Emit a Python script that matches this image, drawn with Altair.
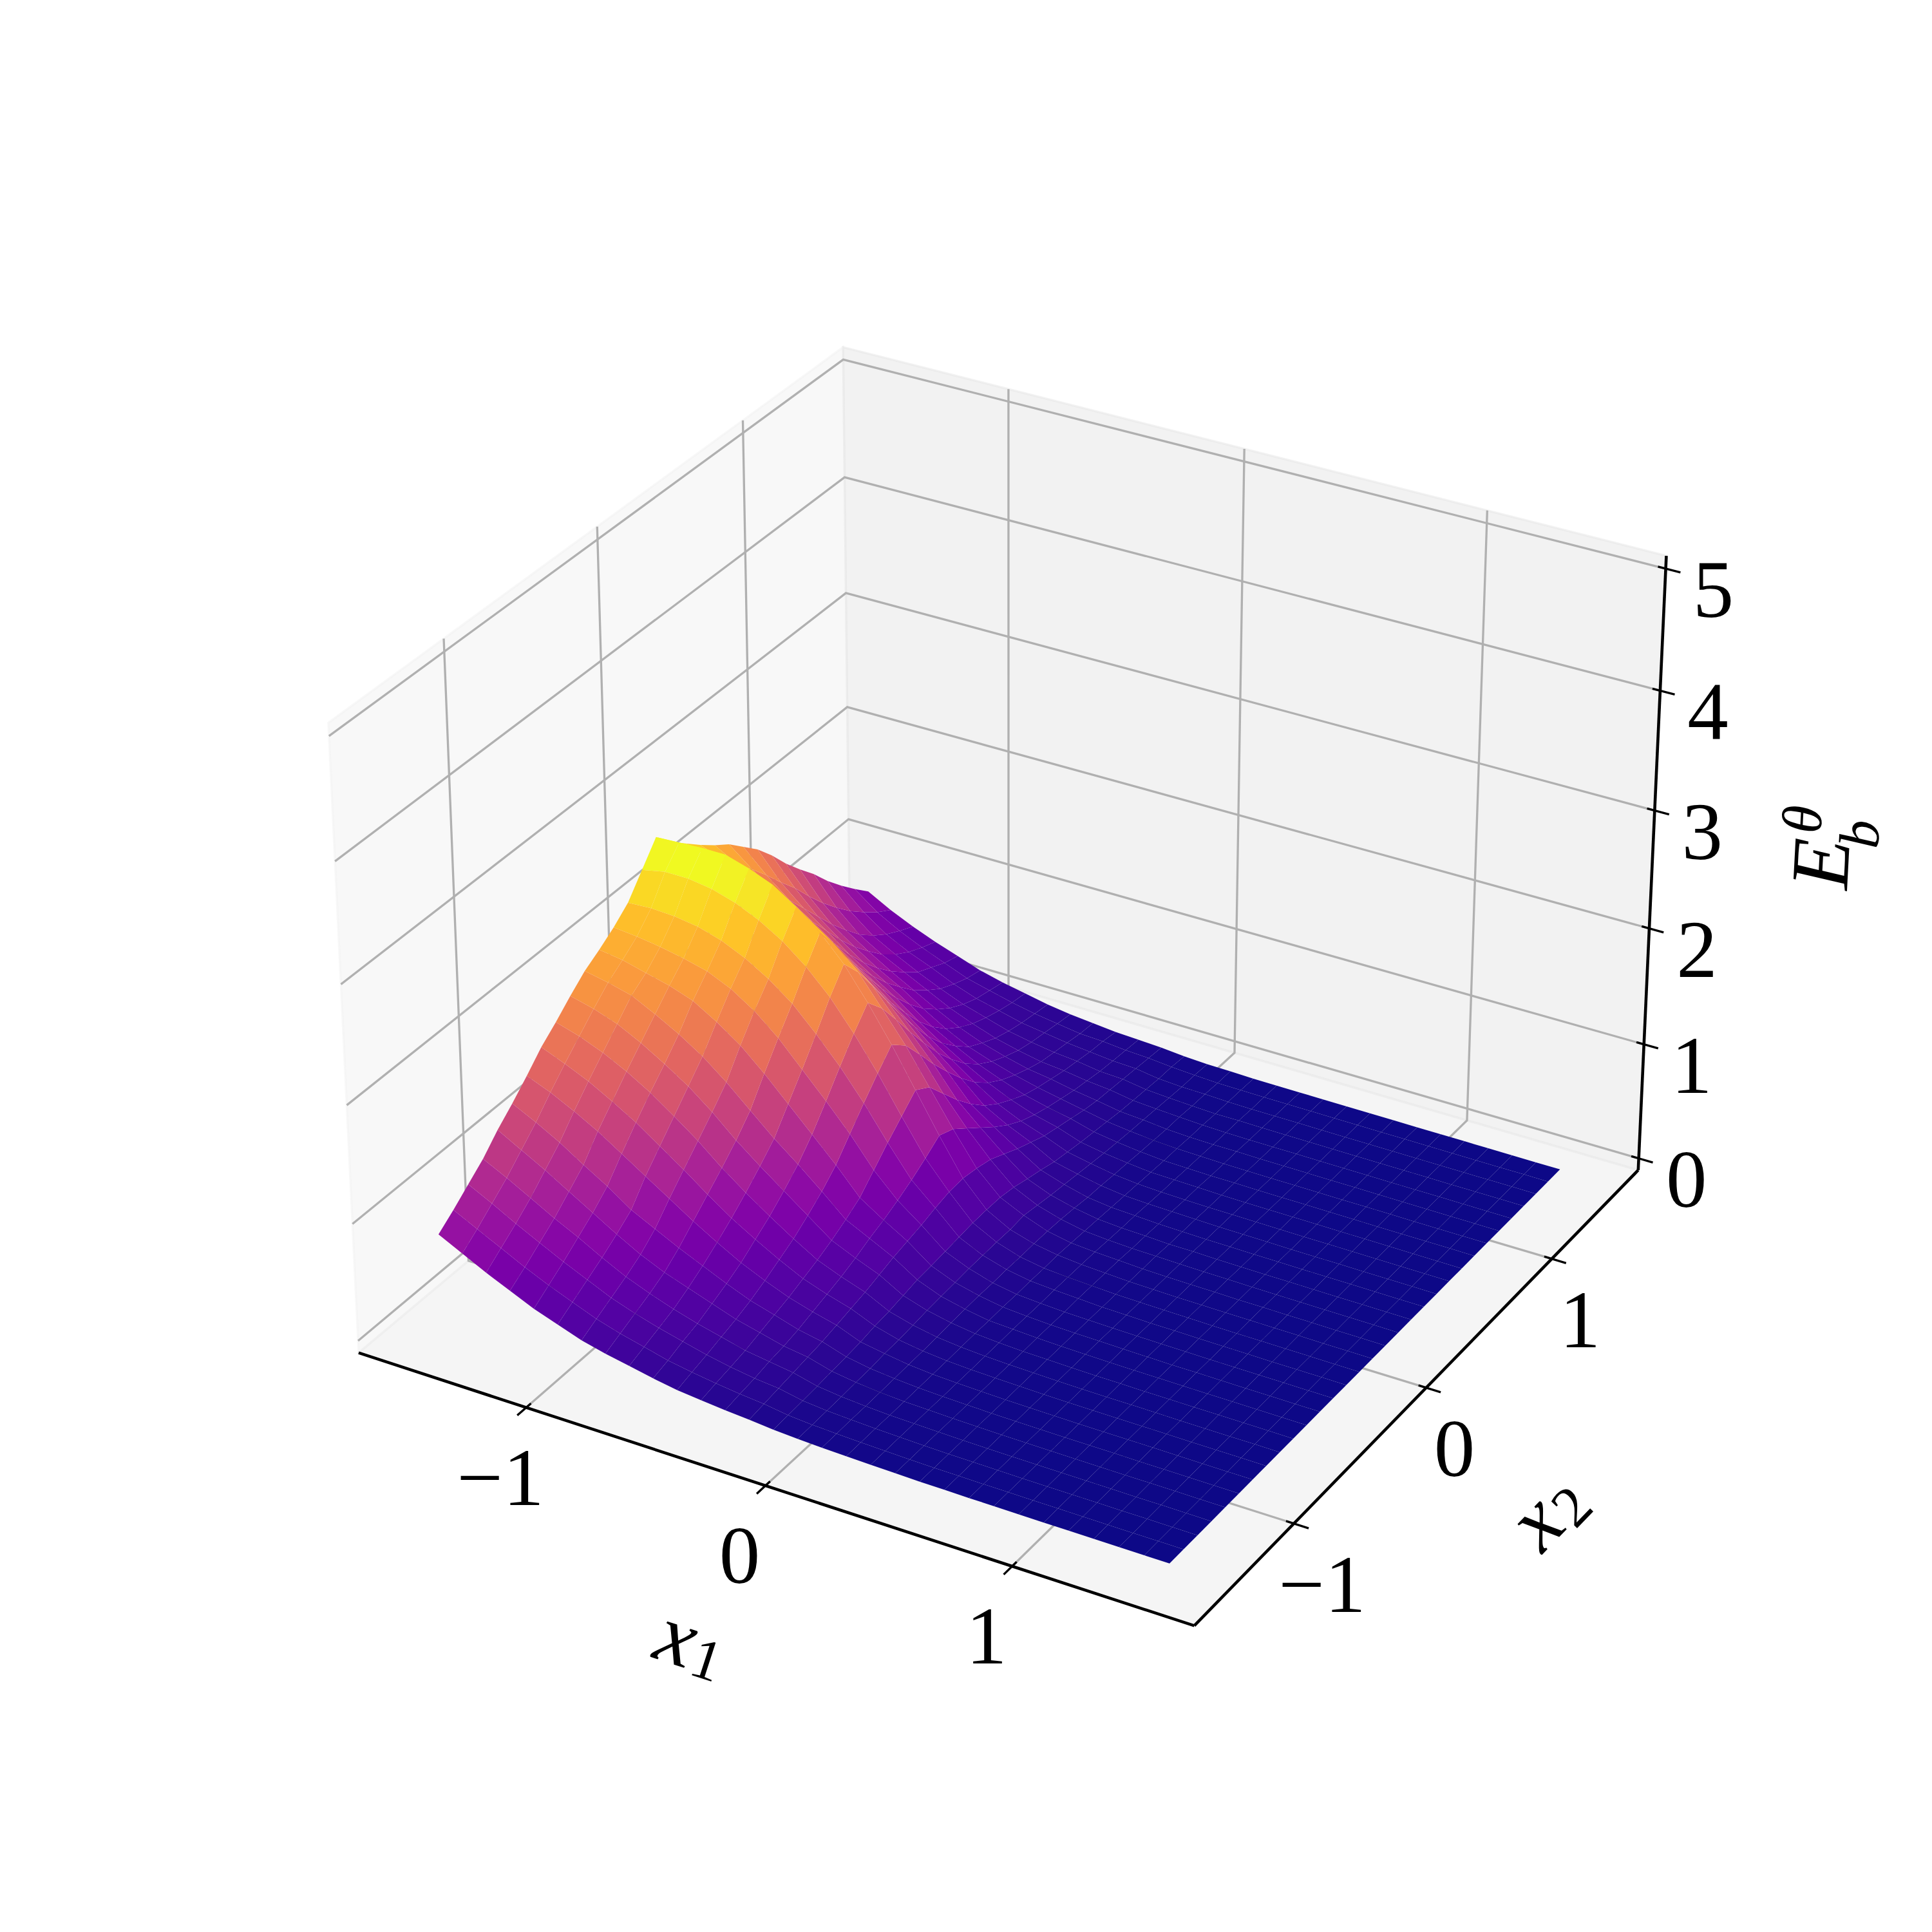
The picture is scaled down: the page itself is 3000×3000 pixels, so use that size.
import math
import altair as alt

# Surface height: rows are x2 = -1.5 .. 1.5, columns x1 = -1.5 .. 1.5
X1 = [round(-1.5 + 0.1 * i, 1) for i in range(31)]
X2 = [round(-1.5 + 0.1 * j, 1) for j in range(31)]
Z = [
[.81,.71,.61,.52,.43,.36,.29,.24,.20,.16,.125,.105,.085,.07, .052,.04,.032,.026,.02,.016,.012,.01,.008,.007,.006,.005,.004,.004,.003,.003,.002],
[.91,.81,.71,.61,.52,.44,.36,.30,.25,.20,.165,.135,.11,.09, .06,.045,.035,.028,.022,.017,.013,.011,.009,.008,.007,.006,.005,.004,.003,.003,.002],
[1.02,.92,.81,.71,.61,.52,.43,.36,.30,.25,.20,.16,.13,.11, .07,.05,.04,.03,.024,.018,.014,.012,.01,.008,.007,.006,.005,.004,.004,.003,.002],
[1.13,1.03,.92,.81,.71,.60,.50,.42,.35,.29,.24,.19,.16,.13, .08,.056,.04,.03,.025,.02,.015,.012,.01,.008,.007,.006,.005,.004,.004,.003,.002],
[1.27,1.16,1.05,.93,.81,.69,.58,.49,.42,.35,.28,.23,.18,.15, .095,.065,.045,.032,.026,.02,.016,.012,.01,.009,.008,.006,.005,.005,.004,.003,.002],
[1.39,1.29,1.18,1.05,.93,.79,.69,.59,.50,.41,.33,.27,.21,.17, .105,.07,.05,.035,.027,.021,.016,.013,.01,.009,.008,.007,.005,.005,.004,.003,.002],
[1.52,1.44,1.34,1.23,1.10,.97,.84,.71,.59,.48,.39,.31,.25,.20, .12,.085,.055,.038,.028,.022,.017,.014,.011,.009,.008,.007,.006,.005,.004,.003,.003],
[1.66,1.58,1.49,1.38,1.26,1.12,.98,.83,.69,.57,.46,.36,.29,.23, .145,.09,.06,.04,.03,.024,.018,.014,.011,.01,.008,.007,.006,.005,.004,.004,.003],
[1.77,1.71,1.63,1.53,1.41,1.27,1.12,.95,.80,.66,.53,.41,.33,.26, .16,.105,.066,.045,.033,.025,.02,.015,.012,.01,.009,.008,.006,.005,.004,.004,.003],
[1.89,1.84,1.77,1.67,1.55,1.42,1.26,1.08,.92,.77,.62,.47,.38,.30, .185,.12,.078,.05,.036,.026,.021,.016,.013,.011,.009,.008,.007,.006,.005,.004,.003],
[2.00,1.96,1.91,1.81,1.70,1.57,1.41,1.23,1.05,.89,.72,.54,.44,.34, .21,.13,.085,.05,.04,.03,.022,.018,.014,.012,.01,.008,.007,.006,.005,.004,.003],
[2.08,2.05,2.00,1.95,1.88,1.76,1.62,1.44,1.24,1.04,.84,.62,.49,.37, .22,.14,.09,.055,.04,.03,.024,.02,.016,.013,.01,.009,.007,.006,.005,.004,.003],
[2.17,2.15,2.12,2.08,2.03,1.94,1.81,1.64,1.43,1.22,1.00,.75,.55,.40, .235,.15,.09,.055,.04,.03,.025,.02,.016,.013,.011,.009,.008,.006,.005,.004,.003],
[2.28,2.29,2.28,2.25,2.19,2.10,1.98,1.83,1.63,1.41,1.16,.88,.62,.44, .25,.155,.095,.06,.045,.035,.025,.02,.016,.014,.011,.009,.008,.006,.005,.004,.003],
[2.46,2.50,2.50,2.47,2.41,2.32,2.20,2.04,1.84,1.59,1.31,1.00,.70,.47, .265,.16,.095,.06,.045,.035,.025,.02,.017,.014,.011,.009,.008,.006,.005,.004,.003],
[2.64,2.65,2.66,2.66,2.60,2.52,2.39,2.23,2.02,1.75,1.45,1.12,.79,.48, .27,.16,.10,.065,.045,.035,.025,.02,.015,.014,.011,.01,.008,.007,.005,.004,.003],
[2.50,2.50,2.45,2.42,2.36,2.28,2.17,2.03,1.85,1.60,1.34,1.04,.74,.46, .27,.175,.10,.06,.045,.035,.025,.02,.016,.014,.011,.01,.008,.007,.005,.004,.003],
[2.39,2.36,2.28,2.22,2.14,2.05,1.94,1.80,1.63,1.40,1.16,.88,.64,.43, .25,.155,.095,.055,.04,.03,.025,.02,.016,.014,.011,.009,.008,.006,.005,.004,.003],
[2.28,2.21,2.11,2.03,1.93,1.83,1.71,1.56,1.40,1.19,.97,.72,.54,.37, .215,.135,.085,.05,.035,.03,.02,.02,.015,.012,.01,.009,.007,.006,.005,.004,.003],
[2.18,2.07,1.95,1.85,1.73,1.62,1.49,1.33,1.18,.99,.80,.58,.44,.31, .185,.12,.07,.045,.035,.025,.02,.015,.014,.012,.01,.008,.007,.006,.005,.004,.003],
[2.09,1.93,1.79,1.67,1.54,1.41,1.28,1.12,.97,.80,.64,.46,.35,.26, .15,.105,.065,.04,.03,.025,.02,.015,.013,.011,.009,.008,.007,.006,.005,.004,.003],
[1.97,1.78,1.62,1.49,1.35,1.21,1.08,.93,.78,.64,.50,.37,.28,.21, .13,.09,.055,.035,.025,.02,.015,.015,.012,.01,.009,.008,.007,.006,.005,.004,.003],
[1.85,1.62,1.45,1.31,1.16,1.03,.90,.75,.62,.50,.39,.30,.23,.18, .11,.075,.05,.03,.025,.02,.015,.012,.011,.01,.009,.008,.007,.006,.005,.004,.003],
[1.70,1.47,1.28,1.13,.99,.87,.74,.60,.49,.39,.31,.24,.19,.15, .095,.065,.042,.025,.02,.015,.015,.012,.011,.01,.008,.007,.006,.005,.004,.004,.003],
[1.53,1.30,1.11,.97,.84,.73,.60,.48,.38,.31,.25,.20,.16,.12, .08,.056,.036,.025,.02,.015,.012,.011,.01,.009,.008,.007,.006,.005,.004,.004,.003],
[1.38,1.14,.96,.83,.71,.60,.49,.39,.31,.25,.20,.17,.13,.10, .064,.05,.03,.02,.015,.015,.012,.011,.01,.009,.008,.007,.006,.005,.004,.003,.003],
[1.24,1.00,.82,.70,.60,.50,.40,.32,.25,.20,.16,.14,.11,.09, .056,.042,.03,.02,.015,.012,.011,.01,.009,.008,.007,.006,.005,.005,.004,.003,.002],
[1.08,.87,.71,.60,.50,.41,.33,.27,.21,.17,.14,.12,.09,.08, .048,.035,.024,.015,.015,.012,.011,.01,.009,.008,.007,.006,.005,.004,.004,.003,.002],
[.94,.76,.62,.52,.44,.35,.28,.23,.18,.15,.12,.10,.08,.07, .04,.028,.024,.015,.012,.011,.01,.009,.008,.007,.006,.005,.005,.004,.003,.003,.002],
[.81,.66,.55,.46,.38,.30,.25,.20,.16,.13,.10,.09,.07,.06, .04,.028,.018,.015,.012,.011,.01,.009,.008,.007,.006,.005,.004,.004,.003,.003,.002],
[.69,.58,.49,.41,.34,.27,.22,.18,.14,.11,.09,.07,.06,.05, .032,.021,.018,.012,.011,.01,.009,.008,.007,.006,.005,.005,.004,.003,.003,.002,.002],
]
X_TICKS = [-1, 0, 1]
Z_TICKS = [0, 1, 2, 3, 4, 5]
XLIM = (-1.71875, 1.71875)
ZLIM = (-0.10417, 5.10417)
FONT = "Liberation Serif"

# matplotlib's default 3D view: elev 30, azim -60, distance 10
BOX = (1.19048, 1.19048, 0.89286)
U = (0.86603, 0.5, 0.0)
V = (-0.25, 0.43301, 0.86603)
W = (0.43301, -0.75, 0.5)
SCALE, CX, CY = 12486.0, 1560.7, 1476.0


def world(x, y, z):
    return (BOX[0] * ((x - XLIM[0]) / (XLIM[1] - XLIM[0]) - 0.5),
            BOX[1] * ((y - XLIM[0]) / (XLIM[1] - XLIM[0]) - 0.5),
            BOX[2] * ((z - ZLIM[0]) / (ZLIM[1] - ZLIM[0]) - 0.5))


def depth(x, y, z):
    d = world(x, y, z)
    return sum(a * b for a, b in zip(W, d))


def pj(x, y, z):
    d = world(x, y, z)
    u = sum(a * b for a, b in zip(U, d))
    v = sum(a * b for a, b in zip(V, d))
    k = 10.0 - depth(x, y, z)
    return [CX + SCALE * u / k, CY - SCALE * v / k]


def shape(kind, pts, **props):
    coords = [pts + [pts[0]]] if kind == "Polygon" else pts
    return {"type": "Feature", "properties": props,
            "geometry": {"type": kind, "coordinates": coords}}


x0, x1 = XLIM
z0, z1 = ZLIM
panes = [
    shape("Polygon", [pj(x0, x0, z0), pj(x0, x1, z0), pj(x0, x1, z1), pj(x0, x0, z1)], c="rgb(242,242,242)"),
    shape("Polygon", [pj(x0, x1, z0), pj(x1, x1, z0), pj(x1, x1, z1), pj(x0, x1, z1)], c="rgb(230,230,230)"),
    shape("Polygon", [pj(x0, x0, z0), pj(x1, x0, z0), pj(x1, x1, z0), pj(x0, x1, z0)], c="rgb(236,236,236)"),
]

GRID, BLACK = "#b0b0b0", "#000000"
lines = []
for t in X_TICKS:
    lines.append(shape("LineString", [pj(t, x0, z0), pj(t, x1, z0), pj(t, x1, z1)], c=GRID, w=3.33))
    lines.append(shape("LineString", [pj(x1, t, z0), pj(x0, t, z0), pj(x0, t, z1)], c=GRID, w=3.33))
for t in Z_TICKS:
    lines.append(shape("LineString", [pj(x0, x0, t), pj(x0, x1, t), pj(x1, x1, t)], c=GRID, w=3.33))
lines.append(shape("LineString", [pj(x0, x0, z0), pj(x1, x0, z0)], c=BLACK, w=4.6))
lines.append(shape("LineString", [pj(x1, x0, z0), pj(x1, x1, z0)], c=BLACK, w=4.6))
lines.append(shape("LineString", [pj(x1, x1, z0), pj(x1, x1, z1)], c=BLACK, w=4.6))
span = x1 - x0
TIN, TOUT = 0.009 * span, 0.017 * span
for t in X_TICKS:
    lines.append(shape("LineString", [pj(t, x0 + TIN, z0), pj(t, x0 - TOUT, z0)], c=BLACK, w=3.33))
    lines.append(shape("LineString", [pj(x1 - TIN, t, z0), pj(x1 + TOUT, t, z0)], c=BLACK, w=3.33))
for t in Z_TICKS:
    lines.append(shape("LineString", [pj(x1 - TIN, x1, t), pj(x1 + TOUT, x1, t)], c=BLACK, w=3.33))

faces = []
for j in range(30):
    for i in range(30):
        cs = [(X1[i], X2[j], Z[j][i]), (X1[i + 1], X2[j], Z[j][i + 1]),
              (X1[i + 1], X2[j + 1], Z[j + 1][i + 1]), (X1[i], X2[j + 1], Z[j + 1][i])]
        zm = sum(c[2] for c in cs) / 4
        dm = sum(depth(*c) for c in cs) / 4
        faces.append((dm, shape("Polygon", [pj(*c) for c in cs], z=zm)))
faces.sort(key=lambda f: f[0])
surface = [f[1] for f in faces]
zvals = [f["properties"]["z"] for f in surface]

upright, italic = [], []


def lab(store, text, base, off, size, angle=0):
    store.append({"t": text, "lon": base[0] + off[0], "lat": base[1] + off[1], "s": size, "a": angle})


for t in X_TICKS:
    s = str(t).replace("-", "\u2212")
    lab(upright, s, pj(t, x0, z0), (-40, 113), 127)
    lab(upright, s, pj(x1, t, z0), (44, 99), 127)
for t in Z_TICKS:
    lab(upright, str(t), pj(x1, x1, t), (74, 37), 127)
lab(italic, "x", pj(0, x0, z0), (-138, 237), 132, 18)
lab(upright, "1", pj(0, x0, z0), (-92, 273), 90, 18)
lab(italic, "x", pj(x1, 0, z0), (172, 210), 132, 314)
lab(upright, "2", pj(x1, 0, z0), (228, 186), 90, 314)
mid = pj(x1, x1, 2.5)
lab(italic, "E", mid, (267, -9), 128, 273)
lab(italic, "\u03b8", mid, (237, -78), 88, 273)
lab(italic, "b", mid, (326, -55), 88, 273)

IDENT = dict(type="identity", scale=1, translate=[0, 0])

pane_layer = alt.Chart(alt.Data(values=panes)).mark_geoshape(
    fillOpacity=0.5, strokeOpacity=0.5, strokeWidth=3.33
).encode(
    fill=alt.Fill("properties.c:N", scale=None),
    stroke=alt.Stroke("properties.c:N", scale=None),
).project(**IDENT)

line_layer = alt.Chart(alt.Data(values=lines)).mark_geoshape(filled=False, strokeCap="butt").encode(
    stroke=alt.Stroke("properties.c:N", scale=None),
    strokeWidth=alt.StrokeWidth("properties.w:Q", scale=None),
).project(**IDENT)

surface_layer = alt.Chart(alt.Data(values=surface)).mark_geoshape(strokeWidth=0).encode(
    color=alt.Color("properties.z:Q", legend=None,
                    scale=alt.Scale(scheme="plasma", domain=[min(zvals), max(zvals)])),
).project(**IDENT)


def text_layer(rows, style):
    return alt.Chart(alt.Data(values=rows)).mark_text(
        font=FONT, fontStyle=style, align="center", baseline="middle", color="black"
    ).encode(
        longitude="lon:Q", latitude="lat:Q", text="t:N",
        size=alt.Size("s:Q", scale=None),
        angle=alt.Angle("a:Q", scale=None),
    ).project(**IDENT)


chart = alt.layer(
    pane_layer, line_layer, surface_layer,
    text_layer(upright, "normal"), text_layer(italic, "italic"),
).properties(width=2984, height=2984, padding=0, autosize="none", background="white").configure_view(stroke=None)

chart.save("out.html", embed_options={"renderer": "svg", "actions": False})
